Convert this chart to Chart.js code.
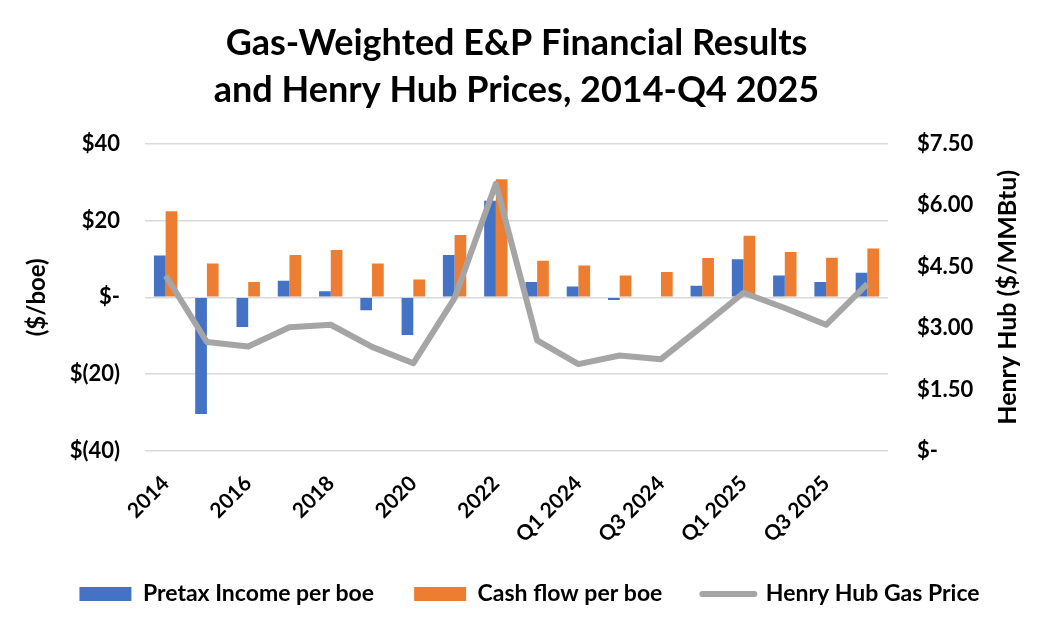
<!DOCTYPE html>
<html>
<head>
<meta charset="utf-8">
<script src="https://cdn.jsdelivr.net/npm/chart.js@4/dist/chart.umd.min.js"></script>
<style>
  html, body { margin: 0; padding: 0; background: #fff; }
  #wrap { width: 1059px; height: 640px; }
</style>
</head>
<body>
<div id="wrap"><canvas id="c" width="1059" height="640"></canvas></div>
<script>
const categories = ['2014','2015','2016','2017','2018','2019','2020','2021','2022','2023',
  'Q1 2024','Q2 2024','Q3 2024','Q4 2024','Q1 2025','Q2 2025','Q3 2025','Q4 2025'];
const pretaxIncome = [10.9, -30.4, -7.7, 4.3, 1.6, -3.4, -9.8, 11.0, 25.1, 4.0, 2.8, -0.7, 0, 3.0, 9.9, 5.7, 4.0, 6.4];
const cashFlow = [22.4, 8.8, 4.0, 11.0, 12.3, 8.8, 4.6, 16.2, 30.7, 9.5, 8.3, 5.7, 6.6, 10.2, 16.0, 11.8, 10.3, 12.7];
const henryHub = [4.28, 2.66, 2.55, 3.02, 3.08, 2.54, 2.14, 3.73, 6.52, 2.70, 2.12, 2.33, 2.24, 3.04, 3.86, 3.49, 3.08, 4.08];
const leftTicks = [-40, -20, 0, 20, 40];
const rightTicks = [0, 1.5, 3, 4.5, 6, 7.5];

const FONT = 'Lato, "Open Sans", sans-serif';

const rightTitlePlugin = {
  id: 'rightTitle',
  afterDraw(chart) {
    const ctx = chart.ctx;
    const s = chart.scales.y1;
    const ca = chart.chartArea;
    ctx.save();
    ctx.translate(s.right - 51, (ca.top + ca.bottom) / 2);
    ctx.rotate(-Math.PI / 2);
    ctx.font = 'bold 25px ' + FONT;
    ctx.fillStyle = '#000';
    ctx.textAlign = 'center';
    ctx.textBaseline = 'middle';
    ctx.fillText('Henry Hub ($/MMBtu)', 0, 0);
    ctx.restore();
  }
};

new Chart(document.getElementById('c'), {
  data: {
    labels: categories,
    datasets: [
      { type: 'bar', label: 'Pretax Income per boe', data: pretaxIncome, backgroundColor: '#4472C4', borderColor: '#4472C4', borderWidth: 0, yAxisID: 'y', order: 1 },
      { type: 'bar', label: 'Cash flow per boe', data: cashFlow, backgroundColor: '#ED7D31', borderColor: '#ED7D31', borderWidth: 0, yAxisID: 'y', order: 2 },
      { type: 'line', label: 'Henry Hub Gas Price', data: henryHub, borderColor: '#A5A5A5', backgroundColor: '#A5A5A5', borderWidth: 6, pointRadius: 0, tension: 0, borderJoinStyle: 'round', yAxisID: 'y1', order: 0 }
    ]
  },
  options: {
    responsive: false,
    animation: false,
    layout: { padding: { left: 0, right: 0, top: 0, bottom: 24.5 } },
    datasets: { bar: { categoryPercentage: 0.567, barPercentage: 1 } },
    plugins: {
      tooltip: { enabled: false },
      title: {
        display: true,
        fullSize: false,
        text: ['Gas-Weighted E&P Financial Results', 'and Henry Hub Prices, 2014-Q4 2025'],
        color: '#000',
        font: { family: FONT, size: 36, weight: 'bold', lineHeight: 1.3 },
        padding: { top: 20, bottom: 30 }
      },
      legend: {
        position: 'bottom',
        labels: {
          color: '#000',
          font: { family: FONT, size: 23, weight: 'bold' },
          usePointStyle: true,
          pointStyleWidth: 52,
          boxHeight: 14,
          padding: 40,
          sort: (a, b) => a.datasetIndex - b.datasetIndex,
          generateLabels: (chart) => chart.data.datasets.map((ds, i) => ({
            text: ds.label,
            fillStyle: ds.backgroundColor,
            strokeStyle: ds.borderColor,
            lineWidth: ds.type === 'line' ? 6 : 0,
            lineCap: 'round',
            pointStyle: ds.type === 'line' ? 'line' : 'rect',
            hidden: false,
            datasetIndex: i,
            fontColor: '#000'
          }))
        }
      }
    },
    scales: {
      x: {
        grid: { display: false },
        border: { display: false },
        ticks: {
          autoSkip: false,
          minRotation: 45,
          maxRotation: 45,
          padding: 12,
          color: '#000',
          font: { family: FONT, size: 21, weight: 'bold' },
          callback: (v, i) => (i % 2 === 0 ? categories[i] : '')
        },
        afterFit: (s) => { s.height = 91.5; }
      },
      y: {
        position: 'left',
        min: leftTicks[0],
        max: leftTicks[leftTicks.length - 1],
        afterBuildTicks: (s) => { s.ticks = leftTicks.map(v => ({ value: v })); },
        grid: { color: '#D9D9D9', lineWidth: 1.5, drawTicks: false },
        border: { display: false },
        ticks: {
          padding: 25,
          color: '#000',
          font: { family: FONT, size: 22, weight: 'bold' },
          callback: (v) => v === 0 ? '$-' : (v < 0 ? '$(' + (-v) + ')' : '$' + v)
        },
        title: {
          display: true,
          text: '($/boe)',
          color: '#000',
          font: { family: FONT, size: 24, weight: 'bold' },
          padding: { top: 23, bottom: 0 }
        },
        afterFit: (s) => { s.width = 145; }
      },
      y1: {
        position: 'right',
        min: rightTicks[0],
        max: rightTicks[rightTicks.length - 1],
        afterBuildTicks: (s) => { s.ticks = rightTicks.map(v => ({ value: v })); },
        grid: { drawOnChartArea: false, drawTicks: false },
        border: { display: false },
        ticks: {
          padding: 29,
          color: '#000',
          font: { family: FONT, size: 22, weight: 'bold' },
          callback: (v) => v === 0 ? '$-' : '$' + Number(v).toFixed(2)
        },
        afterFit: (s) => { s.width = 171; }
      }
    }
  },
  plugins: [rightTitlePlugin]
});
</script>
</body>
</html>
